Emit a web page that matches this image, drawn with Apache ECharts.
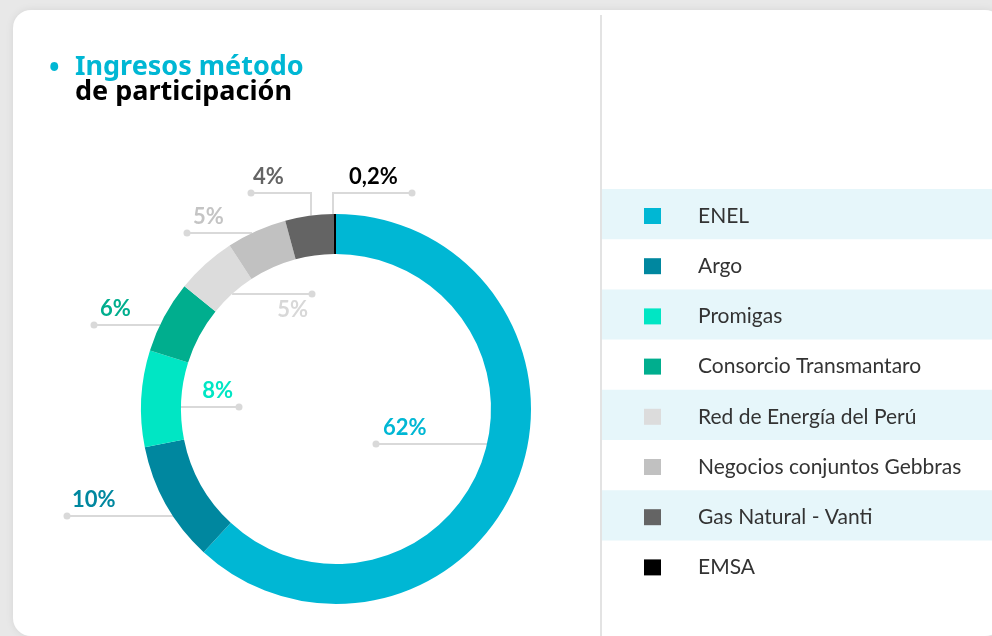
<!DOCTYPE html>
<html>
<head>
<meta charset="UTF-8">
<title>Ingresos método de participación</title>
<script src="https://cdn.jsdelivr.net/npm/echarts@6/dist/echarts.min.js"></script>
<style>
  body { margin: 0; background: #e8e8e8; }
  #chart { width: 992px; height: 636px; }
</style>
</head>
<body>
<div id="chart"></div>
<script>
// datos
var empresas = ['ENEL', 'Argo', 'Promigas', 'Consorcio Transmantaro', 'Red de Energía del Perú',
                'Negocios conjuntos Gebbras', 'Gas Natural - Vanti', 'EMSA'];
var porcentajes = [62, 10, 8, 6, 5, 5, 4, 0.2];

var colores = ['#00b7d4', '#00879f', '#00e6c4', '#00ae8e', '#dcdcdc', '#c1c1c1', '#646464', '#000000'];
var coloresEtiqueta = ['#00b7d4', '#00879f', '#00e6c4', '#00ae8e', '#d8d8d8', '#c4c4c4', '#646464', '#000000'];

// geometria del anillo
var cx = 336, cy = 409, rIn = 155, rOut = 195;

// ubicacion de cada etiqueta: punto final, radio que toca, texto
var guias = [
    {punto: [376, 444], r: rIn,  lado: 1,  texto: [383, 439], align: 'left',  va: 'bottom'},
    {punto: [67, 516],  r: rOut, lado: -1, texto: [72, 511],  align: 'left',  va: 'bottom'},
    {punto: [239, 407], r: rIn,  lado: -1, texto: [233, 402], align: 'right', va: 'bottom'},
    {punto: [94, 325],  r: rOut, lado: -1, texto: [100, 320], align: 'left',  va: 'bottom'},
    {punto: [312, 294], r: rIn,  lado: -1, texto: [308, 299], align: 'right', va: 'top'},
    {punto: [187, 233], r: rOut, lado: -1, texto: [193, 228], align: 'left',  va: 'bottom'},
    {punto: [251, 193], r: rOut, codo: 311, texto: [253, 188], align: 'left', va: 'bottom'},
    {punto: [412, 193], r: rOut, codo: 333, texto: [349, 188], align: 'left', va: 'bottom'}
];

function puntosGuia(g) {
    var px = g.punto[0], py = g.punto[1];
    if (g.codo !== undefined) {
        var yAnillo = cy - Math.sqrt(g.r * g.r - (g.codo - cx) * (g.codo - cx));
        return [[px, py], [g.codo, py], [g.codo, yAnillo]];
    }
    var xAnillo = cx + g.lado * Math.sqrt(g.r * g.r - (py - cy) * (py - cy));
    return [[px, py], [(px + xAnillo) / 2, py], [xAnillo, py]];
}

var filaAlto = 50.2, filaTop = 189, textoAlto = 22;

var graficos = [
    {type: 'rect', shape: {x: 13, y: 10, width: 990, height: 626, r: 18},
     style: {fill: '#ffffff', shadowBlur: 8, shadowColor: 'rgba(0,0,0,0.08)'}, z: -10},
    {type: 'rect', shape: {x: 600, y: 15, width: 2, height: 630},
     style: {fill: '#e3e3e3'}, z: -5}
];
for (var i = 0; i < empresas.length; i += 2) {
    graficos.push({type: 'rect', shape: {x: 602, y: filaTop + i * filaAlto, width: 400, height: filaAlto},
                   style: {fill: '#e6f6fa'}, z: -6});
}
guias.forEach(function (g) {
    graficos.push({type: 'circle', shape: {cx: g.punto[0], cy: g.punto[1], r: 3.5},
                   style: {fill: '#d9d9d9'}, z: 5});
});

var datos = empresas.map(function (n, i) {
    return {
        name: n, value: porcentajes[i],
        itemStyle: {color: colores[i]},
        label: {color: coloresEtiqueta[i]}
    };
});

var chart = echarts.init(document.getElementById('chart'));
chart.setOption({
    animation: false,
    backgroundColor: '#e8e8e8',
    title: [
        {text: '•', left: 49, top: 55, padding: 0,
         textStyle: {color: '#00b7d4', fontSize: 28, fontWeight: 'bold', fontFamily: 'Noto Sans'}},
        {text: '{a|Ingresos método}\n{b|de participación}', left: 75, top: 55, padding: 0,
         textStyle: {
             rich: {
                 a: {color: '#00b7d4', fontSize: 27, fontWeight: 'bold', fontFamily: 'Noto Sans', lineHeight: 25},
                 b: {color: '#000000', fontSize: 27, fontWeight: 'bold', fontFamily: 'Noto Sans', lineHeight: 25}
             }
         }}
    ],
    legend: {
        orient: 'vertical',
        left: 644, top: 205,
        padding: 0,
        icon: 'rect',
        itemWidth: 17, itemHeight: 16,
        itemGap: filaAlto - textoAlto,
        selectedMode: false,
        data: empresas,
        textStyle: {fontSize: 21, color: '#333333', fontFamily: 'Lato', lineHeight: textoAlto, padding: [0, 0, 0, 32]}
    },
    graphic: graficos,
    series: [{
        type: 'pie',
        center: [cx, cy],
        radius: [rIn, rOut],
        startAngle: 90,
        clockwise: true,
        avoidLabelOverlap: false,
        silent: true,
        data: datos,
        label: {
            show: true,
            position: 'outside',
            fontSize: 22,
            fontWeight: 'bold',
            fontFamily: 'Lato',
            formatter: function (p) { return String(p.value).replace('.', ',') + '%'; }
        },
        labelLine: {show: true, length: 0, length2: 0, lineStyle: {color: '#d9d9d9', width: 2}},
        labelLayout: function (params) {
            var g = guias[params.dataIndex];
            return {
                x: g.texto[0], y: g.texto[1],
                align: g.align, verticalAlign: g.va,
                labelLinePoints: puntosGuia(g)
            };
        }
    }]
});
</script>
</body>
</html>
